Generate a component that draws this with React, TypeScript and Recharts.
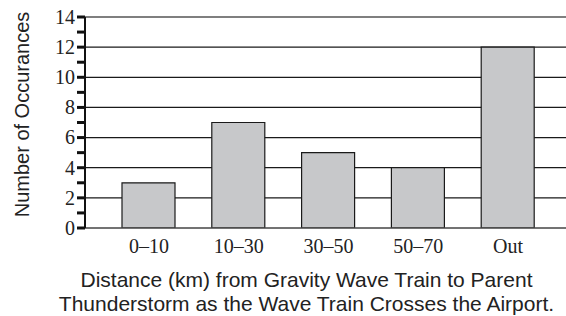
import React from "react";
import { BarChart, Bar, XAxis, YAxis, CartesianGrid, ReferenceLine, Label } from "recharts";

const categories = ["0–10", "10–30", "30–50", "50–70", "Out"];
const occurrences = [3, 7, 5, 4, 12];
const yTicks = [0, 1, 2, 3, 4, 5, 6, 7, 8, 9, 10, 11, 12, 13, 14];
const gridValues = [2, 4, 6, 8, 10, 12];
const topLine = 14;
const yLabel = "Number of Occurances";
const titleLines = [
  "Distance (km) from Gravity Wave Train to Parent",
  "Thunderstorm as the Wave Train Crosses the Airport.",
];

const data = categories.map((c, i) => ({ cat: c, value: occurrences[i] }));

const SERIF = "'Liberation Serif', 'Times New Roman', serif";
const SANS = "'Liberation Sans', Arial, sans-serif";

const YTick = (props: any) => {
  const { x, y, payload } = props;
  const v = payload.value;
  return (
    <g>
      <line x1={x + 2} x2={x + 10} y1={y} y2={y} stroke="#111" strokeWidth={3} />
      {v % 2 === 0 ? (
        <text x={x} y={y} dy="0.34em" textAnchor="end" fontFamily={SERIF} fontSize={20} fill="#222">
          {v}
        </text>
      ) : null}
    </g>
  );
};

const XTick = (props: any) => {
  const { x, y, payload } = props;
  return (
    <text x={x} y={y} dy={14} textAnchor="middle" fontFamily={SERIF} fontSize={20} fill="#222">
      {payload.value}
    </text>
  );
};

const YLabelContent = (props: any) => {
  const vb = props.viewBox || {};
  const cx = 29;
  const cy = vb.y + vb.height / 2 - 8;
  return (
    <text
      x={cx}
      y={cy}
      transform={`rotate(-90, ${cx}, ${cy})`}
      textAnchor="middle"
      fontFamily={SANS}
      fontSize={20}
      fill="#222"
    >
      {yLabel}
    </text>
  );
};

const TitleContent = (props: any) => {
  const vb = props.viewBox || {};
  const cx = vb.x + vb.width / 2 - 19;
  return (
    <g>
      {titleLines.map((t, i) => (
        <text key={i} x={cx} y={287 + i * 24} textAnchor="middle" fontFamily={SANS} fontSize={21} fill="#222">
          {t}
        </text>
      ))}
    </g>
  );
};

export default function App() {
  return (
    <div style={{ position: "absolute", left: 0, top: 0, width: 566, height: 316, background: "#fff" }}>
      <BarChart width={566} height={316} data={data} margin={{ top: 17, right: 0, bottom: 0, left: 0 }}>
        <CartesianGrid horizontal vertical={false} horizontalValues={gridValues} stroke="#1a1a1a" strokeWidth={1.3} />
        <ReferenceLine y={topLine} stroke="#555" strokeWidth={1.5} />
        <XAxis
          dataKey="cat"
          height={88}
          padding={{ left: 19, right: 13 }}
          axisLine={{ stroke: "#444", strokeWidth: 1.5 }}
          tickLine={false}
          tickSize={6}
          tickMargin={5}
          tick={<XTick />}
          interval={0}
        >
          <Label content={<TitleContent />} position="insideBottom" />
        </XAxis>
        <YAxis
          width={85}
          domain={[0, 14]}
          ticks={yTicks}
          interval={0}
          allowDataOverflow
          axisLine={{ stroke: "#111", strokeWidth: 2 }}
          tickLine={false}
          tickSize={8}
          tickMargin={2}
          tick={<YTick />}
        >
          <Label content={<YLabelContent />} position="insideLeft" />
        </YAxis>
        <Bar dataKey="value" barSize={53} fill="#c7c8ca" stroke="#1a1a1a" strokeWidth={1.2} isAnimationActive={false} />
      </BarChart>
    </div>
  );
}
